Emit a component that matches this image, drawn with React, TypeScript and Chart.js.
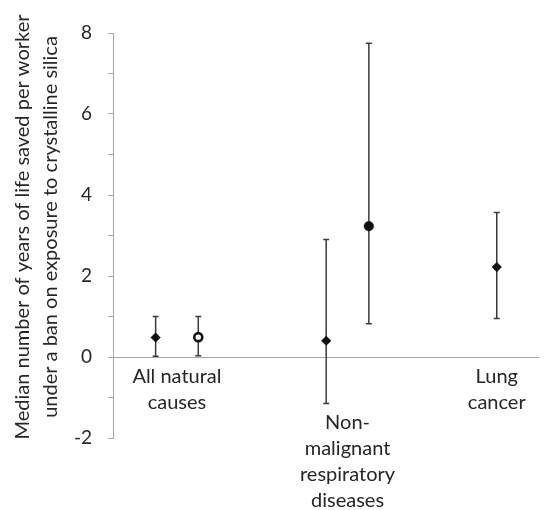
import React, { useEffect, useRef } from "react";
import { Chart, registerables } from "chart.js";

Chart.register(...registerables);

const categories: string[][] = [
  ["All natural", "causes"],
  ["Non-", "malignant", "respiratory", "diseases"],
  ["Lung", "cancer"],
];
const categoryX = [1.5, 5.5, 9];
const pointX = [1, 2, 5, 6, 9];
const medians = [0.48, 0.49, 0.4, 3.23, 2.22];
const lowerCI = [0.02, 0.03, -1.15, 0.82, 0.95];
const upperCI = [1.0, 1.0, 2.9, 7.75, 3.57];
const markerKinds = ["diamond", "openCircle", "diamond", "circle", "diamond"];
const yTitle = [
  "Median number of years of life saved per worker",
  "under a ban on exposure to crystalline silica",
];

const FONT = "Lato";
const AXIS_GRAY = "#a6a6a6";
const TEXT = "#262626";

const decorPlugin = {
  id: "decor",
  beforeDatasetsDraw(chart: any) {
    const { ctx, chartArea, scales } = chart;
    const xs = scales.x;
    const ys = scales.y;
    ctx.save();
    // horizontal axis at 0
    const y0 = Math.round(ys.getPixelForValue(0)) + 0.5;
    ctx.strokeStyle = AXIS_GRAY;
    ctx.lineWidth = 1;
    ctx.beginPath();
    ctx.moveTo(chartArea.left, y0);
    ctx.lineTo(chartArea.right, y0);
    ctx.stroke();
    // error bars
    ctx.strokeStyle = "#3a3a3a";
    ctx.lineWidth = 1.5;
    for (let i = 0; i < pointX.length; i++) {
      const px = xs.getPixelForValue(pointX[i]);
      const pl = ys.getPixelForValue(lowerCI[i]);
      const pu = ys.getPixelForValue(upperCI[i]);
      ctx.beginPath();
      ctx.moveTo(px, pl);
      ctx.lineTo(px, pu);
      ctx.moveTo(px - 3, pl);
      ctx.lineTo(px + 3, pl);
      ctx.moveTo(px - 3, pu);
      ctx.lineTo(px + 3, pu);
      ctx.stroke();
    }
    // category labels
    ctx.fillStyle = TEXT;
    ctx.font = `20px ${FONT}`;
    ctx.textAlign = "center";
    ctx.textBaseline = "alphabetic";
    const firstBaselineOffset = [25, 71, 25];
    const lineH = 26;
    categories.forEach((lines, ci) => {
      const cx = xs.getPixelForValue(categoryX[ci]);
      lines.forEach((ln, li) => {
        ctx.fillText(ln, cx, y0 + firstBaselineOffset[ci] + li * lineH);
      });
    });
    // y-axis title
    ctx.translate(0, 0);
    const cy = 227;
    ctx.save();
    ctx.translate(0, cy);
    ctx.rotate(-Math.PI / 2);
    ctx.textAlign = "center";
    ctx.textBaseline = "middle";
    ctx.font = `20px ${FONT}`;
    ctx.fillText(yTitle[0], 0, 23);
    ctx.fillText(yTitle[1], 0, 51);
    ctx.restore();
    ctx.restore();
  },
};

export default function App() {
  const ref = useRef<HTMLCanvasElement>(null);
  useEffect(() => {
    if (!ref.current) return;
    const styleFor = (k: string) =>
      k === "diamond" ? "rectRot" : "circle";
    const chart = new Chart(ref.current, {
      type: "scatter",
      data: {
        datasets: [
          {
            data: pointX.map((x, i) => ({ x, y: medians[i] })),
            pointStyle: markerKinds.map(styleFor) as any,
            pointRadius: markerKinds.map((k) =>
              k === "diamond" ? 4.8 : k === "circle" ? 4.8 : 4
            ),
            pointBackgroundColor: markerKinds.map((k) =>
              k === "openCircle" ? "#ffffff" : "#111111"
            ),
            pointBorderColor: "#111111",
            pointBorderWidth: markerKinds.map((k) =>
              k === "openCircle" ? 2.6 : 0.5
            ),
            showLine: false,
          },
        ],
      },
      plugins: [decorPlugin],
      options: {
        animation: false,
        responsive: false,
        devicePixelRatio: 1,
        layout: { padding: { left: 0, top: 33, right: 3, bottom: 72 } },
        plugins: {
          legend: { display: false },
          tooltip: { enabled: false },
        },
        scales: {
          x: { type: "linear", min: 0, max: 10, display: false },
          y: {
            min: -2,
            max: 8,
            afterFit: (s: any) => {
              s.width = 113;
            },
            ticks: {
              stepSize: 1,
              autoSkip: false,
              padding: 16,
              color: TEXT,
              font: { family: FONT, size: 19 },
              callback: (v: any) => (Number(v) % 2 === 0 ? String(v) : ""),
            },
            grid: {
              drawOnChartArea: false,
              drawTicks: true,
              tickLength: 5,
              color: AXIS_GRAY,
            },
            border: { display: true, color: AXIS_GRAY, width: 1 },
          },
        },
      },
    });
    return () => chart.destroy();
  }, []);
  return (
    <div style={{ position: "absolute", left: 0, top: 0, width: 546, height: 510, background: "#fff" }}>
      <canvas ref={ref} width={546} height={510} />
    </div>
  );
}
